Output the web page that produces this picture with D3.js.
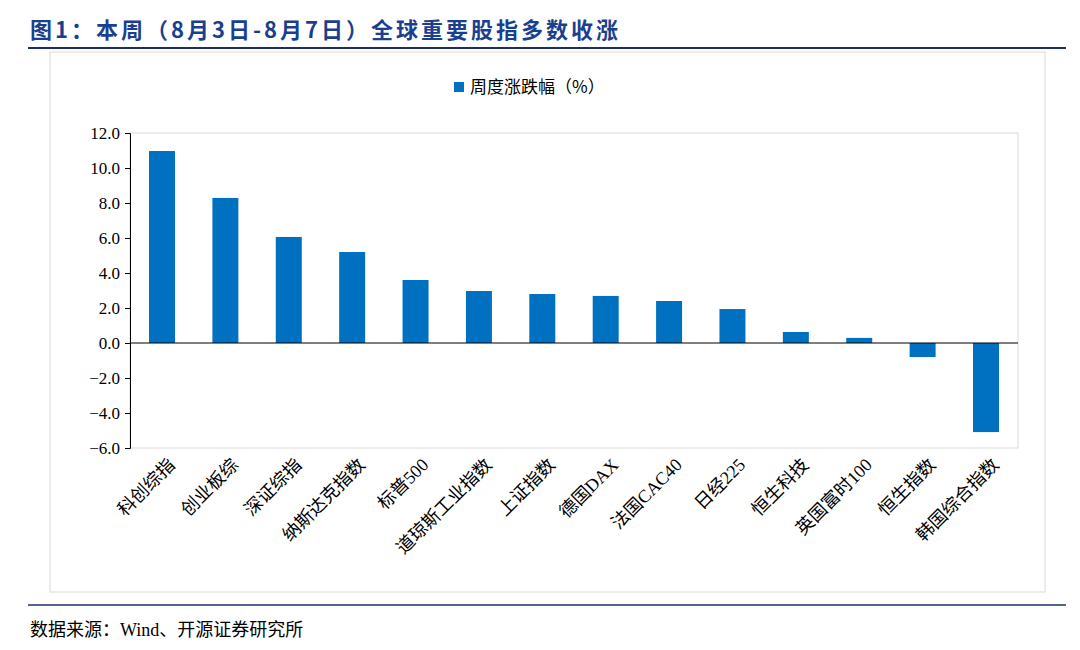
<!DOCTYPE html>
<html><head><meta charset="utf-8">
<script src="https://cdn.jsdelivr.net/npm/d3@7"></script>
<style>body{margin:0;background:#fff;} text{font-family:"Liberation Serif","Noto Sans CJK SC",serif;}</style>
</head><body><div id="chart"></div>
<script>
// chart values
var categories = ["科创综指","创业板综","深证综指","纳斯达克指数","标普500","道琼斯工业指数","上证指数","德国DAX","法国CAC40","日经225","恒生科技","英国富时100","恒生指数","韩国综合指数"];
var values = [10.97, 8.29, 6.06, 5.2, 3.6, 2.97, 2.8, 2.69, 2.4, 1.94, 0.63, 0.29, -0.8, -5.09];
var ticks = [12, 10, 8, 6, 4, 2, 0, -2, -4, -6];

var width = 1080, height = 650;
var margin = { top: 133, left: 130, right: 62, bottom: 202 };

var svg = d3.select("#chart").append("svg").attr("width", width).attr("height", height);

// title
svg.append("text").attr("x", 30).attr("y", 38).attr("fill", "#1a3f8f")
  .style("font-size", "22px").style("font-weight", "bold").style("letter-spacing", "3px")
  .style("font-family", "'Noto Sans CJK SC',sans-serif")
  .text("图1：本周（8月3日-8月7日）全球重要股指多数收涨");
svg.append("line").attr("x1", 28).attr("x2", 1066).attr("y1", 48).attr("y2", 48)
  .attr("stroke", "#1a2f6a").attr("stroke-width", 2);

// outer frame
svg.append("rect").attr("x", 50).attr("y", 52).attr("width", 995).attr("height", 540)
  .attr("fill", "none").attr("stroke", "#d9d9d9");

// legend
svg.append("rect").attr("x", 454).attr("y", 82).attr("width", 10).attr("height", 10).attr("fill", "#0070c0");
svg.append("text").attr("x", 470).attr("y", 93).style("font-size", "17px")
  .style("font-family", "'Noto Sans CJK SC',sans-serif").text("周度涨跌幅（%）");

var x = d3.scaleBand().domain(categories).range([margin.left, width - margin.right]).paddingInner(0.59).paddingOuter(0.3);
var y = d3.scaleLinear().domain([-6, 12]).range([height - margin.bottom, margin.top]);

// plot box
svg.append("rect").attr("x", margin.left).attr("y", margin.top)
  .attr("width", width - margin.right - margin.left).attr("height", y(-6) - y(12))
  .attr("fill", "none").attr("stroke", "#d9d9d9");

var yAxis = svg.append("g").attr("transform", "translate(" + margin.left + ",0)")
  .call(d3.axisLeft(y).tickValues(ticks).tickFormat(d3.format(".1f")).tickSize(5));
yAxis.select(".domain").attr("stroke", "#000");
yAxis.selectAll("line").attr("stroke", "#000");
yAxis.selectAll("text").style("font-size", "17px").attr("fill", "#000").attr("x", -10);

svg.selectAll(".bar").data(values).enter().append("rect")
  .attr("x", function (d, i) { return x(categories[i]); })
  .attr("width", x.bandwidth())
  .attr("y", function (d) { return y(Math.max(0, d)); })
  .attr("height", function (d) { return Math.abs(y(d) - y(0)); })
  .attr("fill", "#0070c0");

// zero axis
svg.append("line").attr("x1", margin.left).attr("x2", width - margin.right)
  .attr("y1", y(0)).attr("y2", y(0)).attr("stroke", "#000");

svg.selectAll(".lab").data(categories).enter().append("text")
  .attr("transform", function (d) {
    return "translate(" + (x(d) + x.bandwidth() / 2 + 14) + "," + (y(-6) + 18) + ") rotate(-45)";
  })
  .attr("text-anchor", "end").style("font-size", "18px").text(function (d) { return d; });

// bottom line and source
svg.append("line").attr("x1", 28).attr("x2", 1066).attr("y1", 605).attr("y2", 605)
  .attr("stroke", "#1a2f6a").attr("stroke-width", 1.5);
svg.append("text").attr("x", 30).attr("y", 636).style("font-size", "18px").text("数据来源：Wind、开源证券研究所");
</script></body></html>
